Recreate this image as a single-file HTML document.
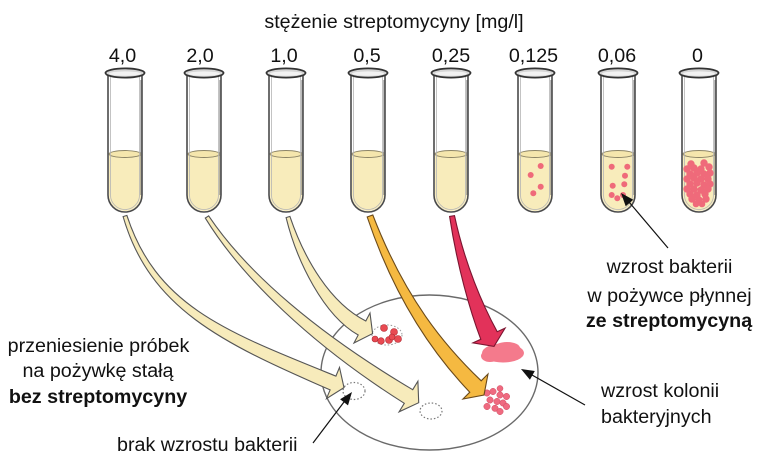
<!DOCTYPE html>
<html><head><meta charset="utf-8"><style>
html,body{margin:0;padding:0;background:#fff;}
svg{display:block;}
text{font-family:"Liberation Sans",Arial,sans-serif;font-size:19.7px;fill:#111;}
.b{font-weight:bold;}
</style></head><body>
<svg width="765" height="467" viewBox="0 0 765 467" xmlns="http://www.w3.org/2000/svg">
<defs>
<g id="tube">
<path d="M-17,75 L-17,195 A17,17 0 0 0 17,195 L17,75 Z" fill="#fff"/>
<path d="M-16,154 L-16,195 A16,16 0 0 0 16,195 L16,154 Z" fill="#f8ecbb"/>
<ellipse cx="0" cy="154" rx="16" ry="3.5" fill="#f5e6ad" stroke="#8c8466" stroke-width="0.9"/>
<path d="M-14.5,76 L-14.5,195 A14.5,14.5 0 0 0 14.5,195 L14.5,76" fill="none" stroke="#b5b5b5" stroke-width="0.8"/>
<path d="M-17,75 L-17,195 A17,17 0 0 0 17,195 L17,75" fill="none" stroke="#4a4a4a" stroke-width="1.6"/>
<path d="M16,80 L16,195" fill="none" stroke="#777" stroke-width="1"/>
<ellipse cx="0" cy="73" rx="19.5" ry="4.6" fill="#d6d6d6" stroke="#333" stroke-width="1.8"/>
<ellipse cx="0" cy="73.6" rx="16" ry="2.2" fill="#f2f2f2"/>
</g>
</defs>

<!-- Petri dish -->
<ellipse cx="429.5" cy="372.5" rx="108.5" ry="77.5" fill="#fff" stroke="#6a6a6a" stroke-width="1.4"/>

<!-- dotted empty spots -->
<ellipse cx="354" cy="391" rx="11" ry="8.5" fill="none" stroke="#777" stroke-width="1.2" stroke-dasharray="1.5 2"/>
<ellipse cx="431" cy="411" rx="11" ry="8" fill="none" stroke="#777" stroke-width="1.2" stroke-dasharray="1.5 2"/>

<!-- red colonies (arrow 3 target) -->
<ellipse cx="387" cy="335" rx="15" ry="10" fill="none" stroke="#999" stroke-width="1" stroke-dasharray="1.5 2"/>
<g fill="#e84a52" stroke="#b02a32" stroke-width="0.6">
<circle cx="384" cy="328" r="3.5"/><circle cx="394" cy="332" r="3.5"/><circle cx="398" cy="339" r="3.5"/>
<circle cx="389" cy="340" r="3.5"/><circle cx="381" cy="341" r="3.3"/><circle cx="375" cy="339" r="3"/>
<circle cx="392" cy="337" r="3"/>
</g>

<!-- pink blob -->
<g fill="#f47a8c">
<ellipse cx="503" cy="353" rx="21" ry="9.5"/>
<ellipse cx="507" cy="348" rx="13" ry="6"/>
<ellipse cx="490" cy="356" rx="9" ry="6"/>
<circle cx="517" cy="353" r="6"/>
</g>

<!-- pink colonies (orange target) -->
<g fill="#ef6a80" stroke="#d04a60" stroke-width="0.5">
<circle cx="487" cy="393" r="3.2"/><circle cx="493" cy="391.5" r="3.2"/><circle cx="500" cy="395" r="3.2"/>
<circle cx="506.5" cy="396.5" r="3.2"/><circle cx="490" cy="400" r="3.2"/><circle cx="497" cy="401.5" r="3.2"/>
<circle cx="503" cy="403" r="3.2"/><circle cx="487" cy="406.5" r="3.2"/><circle cx="495" cy="408.3" r="3.2"/>
<circle cx="506.5" cy="406.5" r="3.2"/><circle cx="500" cy="411.5" r="3.2"/><circle cx="500" cy="388.5" r="3"/>
</g>

<!-- transfer arrows -->
<g stroke-linejoin="miter" stroke-width="1.1">
<path d="M126.9,215.4 C156.4,306 225.3,331.5 335.9,376.1 L339.5,367.4 L344,387.6 L326.5,398.6 L330.1,389.9 C220.7,342.5 149.6,308 123.1,216.6 Z" fill="#f7ebbb" stroke="#555"/>
<path d="M208.7,215.9 C247.7,273.9 318.4,333.8 412.7,389.7 L417.9,381.2 L418.7,402.7 L399.1,411.8 L404.3,403.3 C311.6,344.8 241.9,277.7 205.3,218.1 Z" fill="#f7ebbb" stroke="#555"/>
<path d="M289.9,216.4 C304.4,259.1 330.1,303 365.8,321 L370,313 L372.6,333.6 L354,343 L358.2,335 C323.5,315.4 296.8,261.3 286.1,217.6 Z" fill="#f7ebbb" stroke="#555"/>
<path d="M372.8,215 C405.3,298.9 445,346.2 481.2,380.8 L488,374 L484,395 L463,399 L469.8,392.2 C435.2,356 395.9,302.3 367.2,217 Z" fill="#f5b941" stroke="#6b4a1a"/>
<path d="M454.5,215.6 C464.9,264.3 482.8,305.3 497.2,331.7 L505.1,328.1 L494,346.4 L472.9,342.9 L480.8,339.3 C470,311.1 457.1,265.7 449.6,216.5 Z" fill="#e2325a" stroke="#7a1530"/>
</g>

<!-- tubes -->
<use href="#tube" transform="translate(125,0)"/>
<use href="#tube" transform="translate(204,0)"/>
<use href="#tube" transform="translate(286,0)"/>
<use href="#tube" transform="translate(368,0)"/>
<use href="#tube" transform="translate(451,0)"/>
<use href="#tube" transform="translate(535,0)"/>
<use href="#tube" transform="translate(618,0)"/>
<use href="#tube" transform="translate(699,0)"/>

<!-- bacteria in tubes -->
<g fill="#ef6a7a">
<circle cx="540.7" cy="166" r="3"/><circle cx="530.7" cy="175" r="3"/><circle cx="540.7" cy="186.7" r="3"/><circle cx="533.3" cy="193.3" r="3"/>
<circle cx="611.7" cy="166.7" r="3"/><circle cx="627.3" cy="166.7" r="3"/><circle cx="625" cy="175.7" r="3"/>
<circle cx="612.7" cy="185.7" r="3"/><circle cx="624.3" cy="184.3" r="3"/><circle cx="611.7" cy="195" r="3"/>
<circle cx="617.3" cy="198.3" r="3"/><circle cx="623" cy="195" r="3"/>
</g>
<g fill="#ef6a7a">
<circle cx="691" cy="164" r="3.7"/><circle cx="704" cy="163" r="3.7"/><circle cx="709" cy="167" r="3.7"/>
<circle cx="687" cy="169" r="3.7"/><circle cx="694" cy="168" r="3.7"/><circle cx="701" cy="169" r="3.7"/>
<circle cx="690" cy="174" r="3.7"/><circle cx="697" cy="173" r="3.7"/><circle cx="704" cy="174" r="3.7"/><circle cx="710" cy="173" r="3.7"/>
<circle cx="687" cy="179" r="3.7"/><circle cx="694" cy="178" r="3.7"/><circle cx="701" cy="179" r="3.7"/><circle cx="708" cy="179" r="3.7"/>
<circle cx="690" cy="184" r="3.7"/><circle cx="697" cy="183" r="3.7"/><circle cx="704" cy="185" r="3.7"/><circle cx="710" cy="184" r="3.7"/>
<circle cx="687" cy="189" r="3.7"/><circle cx="694" cy="189" r="3.7"/><circle cx="701" cy="190" r="3.7"/><circle cx="708" cy="189" r="3.7"/>
<circle cx="690" cy="194" r="3.7"/><circle cx="697" cy="195" r="3.7"/><circle cx="705" cy="194" r="3.7"/>
<circle cx="692" cy="199" r="3.7"/><circle cx="699" cy="200" r="3.7"/><circle cx="706" cy="199" r="3.7"/>
<circle cx="696" cy="204" r="3.3"/><circle cx="702" cy="204" r="3.3"/>
</g>

<!-- pointer arrows -->
<g stroke="#111" stroke-width="1.2">
<line x1="668" y1="248" x2="629" y2="202"/>
<line x1="585" y1="405" x2="532" y2="375"/>
<line x1="313" y1="443" x2="344" y2="402"/>
</g>
<g fill="#111">
<polygon points="621,193 633.3,199.7 625.7,206.2"/>
<polygon points="521,369 534.8,371 529.9,379.8"/>
<polygon points="352,392 348,405.4 340.1,399.3"/>
</g>

<!-- text -->
<text x="394" y="28" text-anchor="middle">stężenie streptomycyny [mg/l]</text>
<text x="122.5" y="62" text-anchor="middle">4,0</text>
<text x="200" y="62" text-anchor="middle">2,0</text>
<text x="284" y="62" text-anchor="middle">1,0</text>
<text x="367" y="62" text-anchor="middle">0,5</text>
<text x="451" y="62" text-anchor="middle">0,25</text>
<text x="533.5" y="62" text-anchor="middle">0,125</text>
<text x="617" y="62" text-anchor="middle">0,06</text>
<text x="697.5" y="62" text-anchor="middle">0</text>

<text x="669.5" y="273" text-anchor="middle">wzrost bakterii</text>
<text x="669.5" y="302" text-anchor="middle">w pożywce płynnej</text>
<text x="669" y="327" text-anchor="middle" class="b">ze streptomycyną</text>

<text x="601" y="397">wzrost kolonii</text>
<text x="601" y="423">bakteryjnych</text>

<text x="98.5" y="352" text-anchor="middle">przeniesienie próbek</text>
<text x="98" y="377" text-anchor="middle">na pożywkę stałą</text>
<text x="98" y="403" text-anchor="middle" class="b">bez streptomycyny</text>

<text x="117" y="451">brak wzrostu bakterii</text>
</svg>
</body></html>
